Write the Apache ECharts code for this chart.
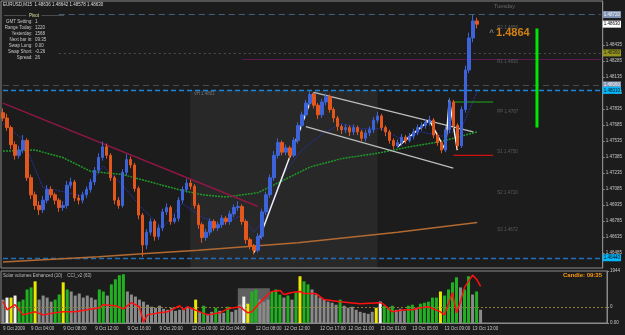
<!DOCTYPE html>
<html>
<head>
<meta charset="utf-8">
<script src="https://cdn.jsdelivr.net/npm/echarts@6.0.0/dist/echarts.min.js"></script>
<style>
  html, body { margin: 0; padding: 0; background: #1c1c1c; }
  #chart { width: 625px; height: 335px; }
</style>
</head>
<body>
<div id="chart"></div>
<script>
// EURUSD M15, 9-13 Oct 2009 (one slot = one drawn bar, 151 slots incl. right shift)
const SLOTS = 151;
const firstOpen = 1.4780;

const closes = [
  1.4775, 1.4766, 1.4750, 1.4740, 1.4745, 1.4754, 1.4719, 1.4703, 1.4693, 1.4689,
  1.4698, 1.4708, 1.4703, 1.4698, 1.4691, 1.4693, 1.4712, 1.4715, 1.4700, 1.4698,
  1.4703, 1.4708, 1.4715, 1.4726, 1.4738, 1.4748, 1.4740, 1.4719, 1.4698, 1.4693,
  1.4724, 1.4736, 1.4731, 1.4709, 1.4684, 1.4656, 1.4668, 1.4678, 1.4664, 1.4672,
  1.4687, 1.4691, 1.4678, 1.4681, 1.4698, 1.4708, 1.4714, 1.4711, 1.4693, 1.4675,
  1.4663, 1.4668, 1.4678, 1.4672, 1.4675, 1.4681, 1.4678, 1.4685, 1.4691, 1.4692,
  1.4678, 1.4661, 1.4655, 1.4651, 1.4664, 1.4687, 1.4703, 1.4719, 1.4740, 1.4752,
  1.4743, 1.4747, 1.4740, 1.4754, 1.4768, 1.4778, 1.4789, 1.4797, 1.4787, 1.4778,
  1.4790, 1.4795, 1.4783, 1.4775, 1.4767, 1.4764, 1.4766, 1.4762, 1.4766, 1.4762,
  1.4756, 1.4761, 1.4764, 1.4773, 1.4777, 1.4766, 1.4762, 1.4754, 1.4749, 1.4752,
  1.4757, 1.4754, 1.4758, 1.4762, 1.4766, 1.4768, 1.4771, 1.4773, 1.4759, 1.4752,
  1.4745, 1.4764, 1.4790, 1.4768, 1.4749, 1.4783, 1.4820, 1.4850, 1.4866, 1.4863
];
const highs = [
  1.4784, 1.4779, 1.4768, 1.4753, 1.4749, 1.4759, 1.4756, 1.4722, 1.4706, 1.4697,
  1.4702, 1.4712, 1.4711, 1.4705, 1.4700, 1.4697, 1.4716, 1.4719, 1.4717, 1.4703,
  1.4706, 1.4711, 1.4718, 1.4729, 1.4742, 1.4753, 1.4751, 1.4742, 1.4721, 1.4701,
  1.4727, 1.4741, 1.4739, 1.4733, 1.4711, 1.4686, 1.4671, 1.4681, 1.4680, 1.4675,
  1.4690, 1.4695, 1.4693, 1.4685, 1.4701, 1.4711, 1.4718, 1.4717, 1.4713, 1.4695,
  1.4677, 1.4671, 1.4681, 1.4680, 1.4678, 1.4684, 1.4683, 1.4688, 1.4694, 1.4697,
  1.4694, 1.4680, 1.4663, 1.4657, 1.4667, 1.4690, 1.4706, 1.4722, 1.4744, 1.4756,
  1.4754, 1.4750, 1.4749, 1.4757, 1.4771, 1.4781, 1.4792, 1.4800, 1.4799, 1.4789,
  1.4793, 1.4798, 1.4797, 1.4785, 1.4777, 1.4769, 1.4769, 1.4768, 1.4769, 1.4768,
  1.4764, 1.4764, 1.4767, 1.4776, 1.4781, 1.4779, 1.4768, 1.4764, 1.4756, 1.4755,
  1.4760, 1.4759, 1.4761, 1.4765, 1.4769, 1.4771, 1.4774, 1.4777, 1.4775, 1.4761,
  1.4754, 1.4767, 1.4794, 1.4792, 1.4770, 1.4786, 1.4824, 1.4855, 1.4872, 1.4869
];
const lows = [
  1.4772, 1.4763, 1.4746, 1.4736, 1.4737, 1.4742, 1.4716, 1.4699, 1.4689, 1.4684,
  1.4686, 1.4695, 1.4700, 1.4694, 1.4687, 1.4688, 1.4690, 1.4709, 1.4697, 1.4694,
  1.4695, 1.4700, 1.4705, 1.4712, 1.4723, 1.4735, 1.4737, 1.4716, 1.4694, 1.4690,
  1.4691, 1.4721, 1.4728, 1.4706, 1.4680, 1.4645, 1.4652, 1.4665, 1.4660, 1.4661,
  1.4669, 1.4684, 1.4675, 1.4676, 1.4678, 1.4695, 1.4705, 1.4708, 1.4690, 1.4671,
  1.4658, 1.4660, 1.4665, 1.4669, 1.4669, 1.4672, 1.4675, 1.4675, 1.4682, 1.4688,
  1.4675, 1.4657, 1.4652, 1.4647, 1.4649, 1.4661, 1.4684, 1.4700, 1.4716, 1.4737,
  1.4740, 1.4740, 1.4737, 1.4738, 1.4751, 1.4765, 1.4775, 1.4786, 1.4784, 1.4774,
  1.4775, 1.4787, 1.4780, 1.4771, 1.4763, 1.4760, 1.4761, 1.4758, 1.4759, 1.4759,
  1.4753, 1.4753, 1.4758, 1.4761, 1.4770, 1.4763, 1.4758, 1.4751, 1.4746, 1.4747,
  1.4749, 1.4751, 1.4752, 1.4755, 1.4759, 1.4763, 1.4765, 1.4768, 1.4756, 1.4749,
  1.4742, 1.4743, 1.4761, 1.4765, 1.4746, 1.4747, 1.4780, 1.4817, 1.4846, 1.4859
];

// moving averages, read at a few slots: [slot, price]
const maGreen = [[0, 1.4744], [8, 1.4745], [15, 1.4738], [22, 1.4725], [30, 1.4722], [36, 1.4716],
  [44, 1.4708], [50, 1.4703], [56, 1.4701], [64, 1.4705], [70, 1.4716], [77, 1.4729], [85, 1.4737],
  [94, 1.4742], [102, 1.4748], [110, 1.4753], [119, 1.4762]];
const maBrown = [[0, 1.4640], [24, 1.4645], [36, 1.4648], [49, 1.4651], [74, 1.4658], [99, 1.4668], [119, 1.4677]];
const maBlue = [[0, 1.4770], [5, 1.4755], [10, 1.4710], [20, 1.4702], [25, 1.4730], [30, 1.4712],
  [35, 1.4690], [40, 1.4672], [45, 1.4695], [50, 1.4682], [55, 1.4675], [60, 1.4684], [63, 1.4668],
  [66, 1.4682], [70, 1.4720], [75, 1.4745], [80, 1.4760], [85, 1.4770], [90, 1.4765], [95, 1.4765],
  [100, 1.4755], [105, 1.4762], [110, 1.4758], [115, 1.4765], [119, 1.4800]];

// drawn objects
const downTrend = [[0, 1.4789], [64, 1.4692]];
const impulse = [[63, 1.4649], [78, 1.4799]];
const channelTop = [[78, 1.4799], [118, 1.4762]];
const channelBottom = [[76, 1.4767], [113, 1.4728]];
const zigzag = [[99, 1.4748], [107, 1.4773], [111, 1.4745], [112, 1.4792], [114, 1.4745]];
const buyLevel = [[113, 1.4790], [118, 1.4790], [123, 1.4790]];
const sellLevel = [[113, 1.4740], [118, 1.4740], [123, 1.4740]];
const rangeBar = [[134, 1.4859], [134, 1.4766]];

// horizontal levels with price boxes on the right axis
const levelPrices = [1.4872, 1.4863, 1.4836, 1.4830, 1.4806, 1.4801, 1.4644];
const levelFrom = [14, 0, 14, 60, 0, 0, 0];

// pivot captions on the right of the bars
const pivotNames = ['R2', 'R1', 'PP', 'S1', 'S2', 'S3'];
const pivotPrices = [1.4855, 1.4830, 1.4787, 1.4750, 1.4710, 1.4672];
const pivotAt = [1.4860, 1.4828, 1.4781, 1.4743, 1.4705, 1.4670];

// volume panel
const volumes = [
  874, 950, 950, 1026, 798, 874, 1254, 1330, 1558, 874,
  1026, 950, 798, 874, 1064, 1520, 1254, 1178, 1026, 1102,
  950, 1026, 950, 874, 1254, 1178, 1026, 1444, 1634, 1786,
  1824, 1178, 1064, 988, 874, 798, 684, 608, 570, 646,
  532, 494, 570, 456, 494, 532, 608, 570, 874, 418,
  646, 342, 418, 570, 456, 380, 608, 418, 494, 684,
  988, 722, 1178, 1254, 874, 798, 874, 1178, 1254, 1064,
  950, 1026, 874, 1140, 1748, 1558, 1444, 1254, 1064, 950,
  874, 798, 760, 684, 874, 646, 570, 608, 494, 418,
  380, 342, 418, 570, 798, 646, 570, 646, 494, 532,
  456, 646, 684, 570, 722, 760, 798, 950, 950, 1178,
  1026, 1254, 1520, 1710, 1330, 1254, 1748, 1064, 1178, 494
];
// n = normal, g = high, y = climax, w = churn
const volType = [
  'n', 'w', 'y', 'w', 'g', 'g', 'g', 'g', 'y', 'n',
  'n', 'n', 'n', 'g', 'g', 'y', 'g', 'n', 'n', 'n',
  'n', 'n', 'n', 'n', 'g', 'g', 'n', 'g', 'g', 'g',
  'g', 'n', 'n', 'n', 'n', 'n', 'n', 'n', 'n', 'n',
  'n', 'n', 'n', 'n', 'n', 'n', 'n', 'n', 'y', 'n',
  'g', 'n', 'n', 'g', 'n', 'n', 'g', 'n', 'n', 'n',
  'w', 'y', 'g', 'g', 'n', 'n', 'n', 'g', 'g', 'g',
  'n', 'g', 'n', 'g', 'y', 'g', 'g', 'n', 'n', 'n',
  'n', 'n', 'n', 'n', 'g', 'n', 'n', 'n', 'n', 'n',
  'n', 'n', 'n', 'y', 'w', 'g', 'g', 'g', 'n', 'n',
  'n', 'g', 'g', 'n', 'g', 'g', 'g', 'g', 'g', 'y',
  'g', 'g', 'g', 'g', 'n', 'g', 'g', 'n', 'g', 'n'
];
const cci = [[0, 47], [1, -28], [3, 19], [5, -75], [8, -47], [10, -75], [13, -56], [15, -47],
  [18, -47], [21, -28], [24, -9], [25, 19], [28, 9], [30, -19], [32, 38], [34, 0], [35, -141],
  [36, -75], [39, -56], [41, -47], [44, 9], [45, -28], [46, 0], [49, -47], [51, -75], [54, -56],
  [56, -19], [59, 0], [60, -28], [61, -56], [62, -47], [64, 38], [66, 113], [67, 141], [69, 151],
  [70, 113], [72, 132], [74, 141], [75, 122], [78, 122], [80, 66], [84, 47], [89, 28], [94, 38],
  [95, 19], [97, -47], [100, -28], [102, -28], [104, -9], [106, 0], [109, -47], [110, -75],
  [112, 132], [113, -56], [114, 47], [115, 179], [117, 292], [118, 254], [119, 188]];

// time axis
const timeLabelIdx = [0, 7, 15, 23, 31, 39, 47, 54, 63, 70, 79, 86, 94, 102, 110, 117];
const timeLabels = ['9 Oct 2009', '9 Oct 04:00', '9 Oct 08:00', '9 Oct 12:00', '9 Oct 16:00',
  '9 Oct 20:00', '12 Oct 00:00', '12 Oct 04:00', '12 Oct 08:00', '12 Oct 12:00', '12 Oct 17:00',
  '12 Oct 21:00', '13 Oct 01:00', '13 Oct 05:00', '13 Oct 09:00', '13 Oct 13:00'];
const priceTicks = [1.48435, 1.48285, 1.48135, 1.47985, 1.47835, 1.47685, 1.47535, 1.47385,
  1.47235, 1.47085, 1.46935, 1.46785, 1.46635, 1.46485];

const infoNames = ['GMT Setting:', 'Range Today:', 'Yesterday:', 'Next bar in:', 'Swap Long:', 'Swap Short:', 'Spread:'];
const infoValues = ['1', '1220', '1568', '09:35', '0.00', '-0.26', '26'];

const FONT = "'Liberation Sans', Arial, sans-serif";
const axisGray = '#8a8a8a';
const textGray = '#c8c8c8';
const volColors = { n: '#8a8a8a', g: '#21b021', y: '#e8e800', w: '#f2f2f2' };

const slots = [];
for (let i = 0; i < SLOTS; i++) slots.push(String(i));

const candles = closes.map((c, i) => [i === 0 ? firstOpen : closes[i - 1], c, lows[i], highs[i]]);
const isLabelSlot = (i) => timeLabelIdx.indexOf(i) >= 0;

const levelStyles = [
  { line: { color: '#40607f', type: [6, 4], width: 1 }, box: '#8294b6', text: '#f4f4f4' },
  { line: { color: 'transparent' }, box: '#ffffff', text: '#000000' },
  { line: { color: '#4e4e4e', type: [2, 3], width: 1 }, box: '#94941e', text: '#1c1c1c' },
  { line: { color: '#5c1650', type: 'solid', width: 1 }, box: null },
  { line: { color: '#4a4a4a', type: [6, 4], width: 1 }, box: '#8294b6', text: '#f4f4f4' },
  { line: { color: '#1d86d8', type: [5, 3], width: 1.4 }, box: '#00b8ff', text: '#0a0a0a' },
  { line: { color: '#1d6fb8', type: [5, 3], width: 1.4 }, box: '#00b8ff', text: '#0a0a0a' }
];

const levelLines = levelPrices.map((p, k) => {
  const st = levelStyles[k];
  const label = st.box ? {
    show: true, position: 'end', distance: 2, formatter: p.toFixed(5),
    backgroundColor: st.box, color: st.text, fontSize: 4.5, fontFamily: FONT, padding: [1, 1]
  } : { show: false };
  return [
    { coord: [levelFrom[k], p], lineStyle: st.line, label: label },
    { coord: [SLOTS - 1, p], lineStyle: st.line, label: label }
  ];
});

function overlay(data, color, width, type, extra) {
  return Object.assign({
    type: 'line', xAxisIndex: 0, yAxisIndex: 0, data: data, symbol: 'none',
    lineStyle: { color: color, width: width, type: type || 'solid' }, silent: true, z: 3
  }, extra || {});
}

const myChart = echarts.init(document.getElementById('chart'));

const option = {
  backgroundColor: '#1c1c1c',
  animation: false,
  textStyle: { fontFamily: FONT },
  grid: [
    { left: 1, right: 18, top: 1, height: 267, show: true, borderColor: axisGray, borderWidth: 1 },
    { left: 1, right: 18, top: 271, height: 52, show: true, borderColor: axisGray, borderWidth: 1 }
  ],
  xAxis: [
    { type: 'category', gridIndex: 0, data: slots, show: false },
    {
      type: 'category', gridIndex: 1, data: slots,
      axisLine: { lineStyle: { color: axisGray } },
      axisTick: { alignWithLabel: true, interval: isLabelSlot, length: 2, lineStyle: { color: axisGray } },
      axisLabel: {
        interval: isLabelSlot, color: textGray, fontSize: 4.5, align: 'left', margin: 3,
        formatter: (v, i) => { const k = timeLabelIdx.indexOf(i); return k >= 0 ? timeLabels[k] : ''; }
      }
    }
  ],
  yAxis: [
    {
      type: 'value', gridIndex: 0, position: 'right', min: 1.46344, max: 1.48847,
      splitLine: { show: false },
      axisLine: { show: true, lineStyle: { color: axisGray } },
      axisTick: { show: true, length: 2, customValues: priceTicks, lineStyle: { color: axisGray } },
      axisLabel: { customValues: priceTicks, formatter: v => v.toFixed(5), color: textGray, fontSize: 4.5, margin: 3 }
    },
    {
      type: 'value', gridIndex: 1, position: 'right', min: 0, max: 1944,
      splitLine: { show: false },
      axisLine: { show: true, lineStyle: { color: axisGray } },
      axisTick: { show: true, length: 2, customValues: [0, 1944], lineStyle: { color: axisGray } },
      axisLabel: { customValues: [0, 1944], formatter: v => (v === 0 ? '0.00' : String(v)), color: textGray, fontSize: 4.5, margin: 3 }
    },
    {
      type: 'value', gridIndex: 1, position: 'right', min: -150, max: 330,
      splitLine: { show: false }, axisLine: { show: false },
      axisTick: { show: true, length: 2, customValues: [0], lineStyle: { color: axisGray } },
      axisLabel: { customValues: [0], formatter: () => '0', color: textGray, fontSize: 4.5, margin: 3 }
    }
  ],
  series: [
    {
      type: 'candlestick', xAxisIndex: 0, yAxisIndex: 0, data: candles, barWidth: 3, z: 4,
      itemStyle: { color: '#3d63d8', color0: '#e2571c', borderColor: '#3d63d8', borderColor0: '#e2571c', borderWidth: 1 },
      markArea: {
        silent: true,
        itemStyle: { color: 'rgba(255,255,255,0.055)' },
        data: [[{ coord: [47, 1.4801] }, { coord: [94, 1.46344] }]]
      },
      markLine: { silent: true, symbol: ['none', 'none'], data: levelLines, z: 2 }
    },
    overlay(maBrown, '#b26a32', 1.5),
    overlay(maGreen, '#1f9a2a', 1.5, [2, 1]),
    overlay(maBlue, '#2333a8', 1, [2, 1]),
    overlay(downTrend, '#8e1746', 1.5),
    overlay(impulse, '#f0f0f0', 1.5),
    overlay(channelTop, '#bdbdbd', 1.2),
    overlay(channelBottom, '#bdbdbd', 1.2),
    overlay(zigzag, '#f4f4f4', 1.5),
    overlay(buyLevel, '#1fa51f', 1.2, 'solid', { symbol: 'rect', symbolSize: 4, itemStyle: { color: '#22ee22' } }),
    overlay(sellLevel, '#d01010', 1.2, 'solid', { symbol: 'rect', symbolSize: 4, itemStyle: { color: '#ff2020' } }),
    overlay(rangeBar, '#00e600', 3),
    {
      type: 'scatter', xAxisIndex: 0, yAxisIndex: 0, symbolSize: 0, silent: true,
      data: pivotNames.map((n, k) => [124, pivotAt[k], n + ' ' + pivotPrices[k].toFixed(4)]),
      label: { show: true, position: 'right', distance: 0, formatter: p => p.value[2], color: '#6c6c6c', fontSize: 4.5 }
    },
    {
      type: 'scatter', xAxisIndex: 0, yAxisIndex: 0, symbolSize: 0, silent: true,
      data: [[122, 1.4855, closes[118] - 0.0002], [48, 1.4798, 1.4801]],
      label: {
        show: true, position: 'right', distance: 0,
        formatter: p => (p.dataIndex === 0 ? '{a|^ }{b|' + p.value[2].toFixed(4) + '}' : '{c|vH ' + p.value[2].toFixed(4) + '}'),
        rich: {
          a: { color: '#9a9a9a', fontSize: 8, fontWeight: 'bold' },
          b: { color: '#ff9a14', fontSize: 11, fontWeight: 'bold' },
          c: { color: '#8a8a8a', fontSize: 4.5 }
        }
      }
    },
    {
      type: 'bar', xAxisIndex: 1, yAxisIndex: 1, barWidth: 3, z: 3,
      data: volumes.map((v, i) => ({ value: v, itemStyle: { color: volColors[volType[i]] } })),
      markArea: {
        silent: true, itemStyle: { color: '#5f5f5f' },
        data: [[{ coord: [58, 0] }, { coord: [64, 1300] }]]
      }
    },
    {
      type: 'line', xAxisIndex: 1, yAxisIndex: 2, data: cci, symbol: 'none', z: 10,
      lineStyle: { color: '#ff1010', width: 1.5 },
      markLine: {
        silent: true, symbol: ['none', 'none'], label: { show: false },
        lineStyle: { color: '#8c7a32', type: [2, 2], width: 1 },
        data: [{ yAxis: 0 }]
      }
    }
  ],
  graphic: [
    { type: 'text', x: 3, y: 2, style: { text: 'EURUSD,M15  1.48636 1.48642 1.48578 1.48630', fill: '#dcdcdc', font: '4.5px ' + FONT } },
    { type: 'text', x: 4, y: 13, style: { text: '―――――  {p|Pivot}  ―――――', fill: '#9a9a9a', font: '4.5px ' + FONT, rich: { p: { fill: '#e8e4a0', fontSize: 4.5 } } } },
    ...infoNames.map((n, k) => ({ type: 'text', x: 32.5, y: 19.5 + k * 6, style: { text: n, fill: textGray, font: '4.5px ' + FONT, align: 'right' } })),
    ...infoValues.map((v, k) => ({ type: 'text', x: 35, y: 19.5 + k * 6, style: { text: v, fill: textGray, font: '4.5px ' + FONT } })),
    { type: 'text', x: 494, y: 3, style: { text: 'Tuesday', fill: '#666666', font: '5.5px ' + FONT } },
    { type: 'text', x: 3, y: 273, style: { text: 'Solar volumes Enhanced (10)    CCI_v2 (63)', fill: '#bdbdbd', font: '4.5px ' + FONT } },
    { type: 'text', x: 602, y: 272, style: { text: 'Candle: 09:35', fill: '#ff9a14', font: 'bold 6px ' + FONT, align: 'right' } }
  ]
};

myChart.setOption(option);
</script>
</body>
</html>
